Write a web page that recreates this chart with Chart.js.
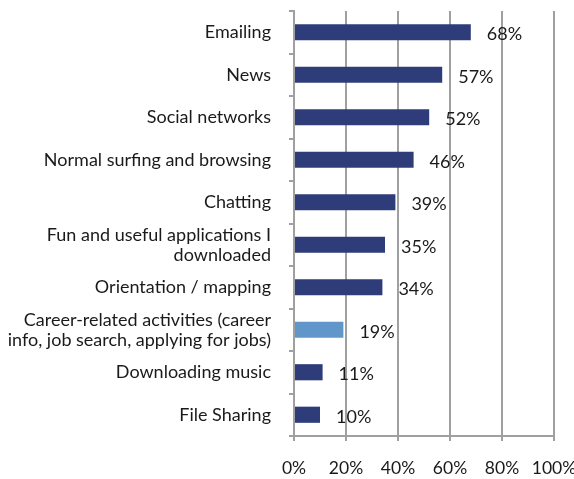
<!DOCTYPE html>
<html>
<head>
<meta charset="utf-8">
<script src="https://cdn.jsdelivr.net/npm/chart.js@4"></script>
<style>
  html, body { margin: 0; padding: 0; background: #fff; }
  #wrap { width: 574px; height: 479px; }
</style>
</head>
<body>
<div id="wrap"><canvas id="chart" width="574" height="479"></canvas></div>
<script>
// ── DATA ────────────────────────────────────────────────────────────────────
const categories = [
  "Emailing",
  "News",
  "Social networks",
  "Normal surfing and browsing",
  "Chatting",
  ["Fun and useful applications I", "downloaded"],
  "Orientation / mapping",
  ["Career-related activities (career", "info, job search, applying for jobs)"],
  "Downloading music",
  "File Sharing"
];
const values = [68, 57, 52, 46, 39, 35, 34, 19, 11, 10];
const highlightIndex = 7;
const xTicks = [0, 20, 40, 60, 80, 100];

const DARK = "#2e3d7a";
const LIGHT = "#6196cb";
const GRID = "#a0a0a0";
const FONT = "Lato, sans-serif";

// ── VALUE LABELS ────────────────────────────────────────────────────────────
const valueLabels = {
  id: "valueLabels",
  afterDatasetsDraw(chart) {
    const ctx = chart.ctx;
    const meta = chart.getDatasetMeta(0);
    ctx.save();
    ctx.fillStyle = "#1a1a1a";
    ctx.font = `18px ${FONT}`;
    ctx.textAlign = "left";
    ctx.textBaseline = "middle";
    meta.data.forEach((bar, i) => {
      ctx.fillText(values[i] + "%", bar.x + 16, bar.y + 2);
    });
    ctx.restore();
  }
};

new Chart(document.getElementById("chart"), {
  type: "bar",
  data: {
    labels: categories,
    datasets: [{
      data: values,
      backgroundColor: values.map((v, i) => i === highlightIndex ? LIGHT : DARK),
      barPercentage: 0.38,
      categoryPercentage: 1
    }]
  },
  options: {
    indexAxis: "y",
    responsive: false,
    animation: false,
    layout: { padding: { top: 11, right: 20, bottom: 0, left: 0 } },
    plugins: { legend: { display: false }, tooltip: { enabled: false } },
    scales: {
      x: {
        min: 0, max: 100,
        afterBuildTicks: (axis) => { axis.ticks = xTicks.map(v => ({ value: v })); },
        afterFit: (axis) => { axis.height = 43; axis.paddingLeft = 0; axis.paddingRight = 0; },
        grid: { color: GRID, lineWidth: 2, tickLength: 5, drawTicks: true },
        border: { color: GRID, width: 2 },
        ticks: {
          color: "#1a1a1a",
          font: { family: FONT, size: 17.5 },
          padding: 17,
          callback: (v) => v + "%"
        }
      },
      y: {
        afterFit: (axis) => { axis.width = 294; axis.paddingTop = 0; axis.paddingBottom = 0; },
        grid: { display: true, drawOnChartArea: false, color: GRID, lineWidth: 2, tickLength: 5, offset: true },
        border: { color: GRID, width: 2 },
        ticks: {
          color: "#1a1a1a",
          font: { family: FONT, size: 18, lineHeight: "20px" },
          padding: 18,
          autoSkip: false
        }
      }
    }
  },
  plugins: [valueLabels]
});
</script>
</body>
</html>
